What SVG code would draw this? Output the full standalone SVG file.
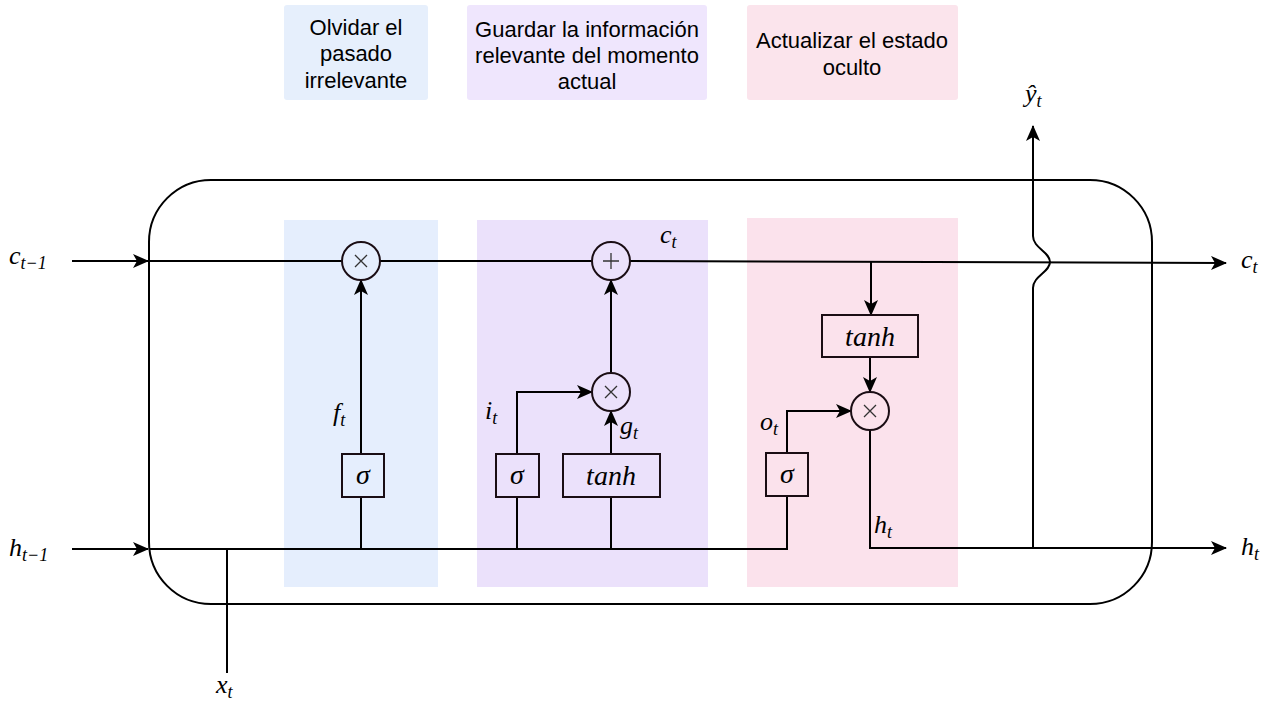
<svg xmlns="http://www.w3.org/2000/svg" width="1271" height="704" viewBox="0 0 1271 704">
<style>
.hdr{font-family:"Liberation Sans",Arial,sans-serif;font-size:22px;fill:#000;text-anchor:middle}
.m{font-family:"Liberation Serif","Times New Roman",serif;font-style:italic;font-size:26px;fill:#000}
.bx{font-size:28px}
.sub{font-size:18px}
.ln{fill:none;stroke:#000;stroke-width:2}
.box{fill:none;stroke:#1a0d14;stroke-width:2}
.op{fill:none;stroke:#1a0d14;stroke-width:2}
.sym{stroke:#333;stroke-width:1.3}
</style>
<defs>
<marker id="ar" viewBox="0 0 16 14" refX="15" refY="7" markerWidth="16" markerHeight="14" markerUnits="userSpaceOnUse" orient="auto">
<path d="M0,0 L16,7 L0,14 L4,7 Z" fill="#000"/>
</marker>
</defs>
<g id="headers">
<g id="h-forget"><rect x="284" y="5" width="144" height="95" rx="3" fill="#e6effc"/>
<text class="hdr" x="356" y="35">Olvidar el</text><text class="hdr" x="356" y="61">pasado</text><text class="hdr" x="356" y="88">irrelevante</text></g>
<g id="h-input"><rect x="467" y="5" width="240" height="95" rx="3" fill="#efe6fd"/>
<text class="hdr" x="587" y="37">Guardar la información</text><text class="hdr" x="587" y="63">relevante del momento</text><text class="hdr" x="587" y="89">actual</text></g>
<g id="h-output"><rect x="747" y="5" width="211" height="95" rx="3" fill="#fbe4ec"/>
<text class="hdr" x="852" y="48">Actualizar el estado</text><text class="hdr" x="852" y="75">oculto</text></g>
</g>
<g id="cell"><rect x="149" y="180" width="1003" height="424" rx="62" fill="none" stroke="#000" stroke-width="2"/></g>
<g id="panels">
<rect id="p-forget" x="284" y="220" width="154" height="367" fill="#e5eefd"/>
<rect id="p-input" x="477" y="220" width="231" height="367" fill="#ebe1fb"/>
<rect id="p-output" x="747" y="218" width="211" height="369" fill="#fbe2ec"/>
</g>
<g id="connectors">
<path class="ln" d="M72,261 L148,261" marker-end="url(#ar)"/>
<path class="ln" d="M149,261 L342,261"/>
<path class="ln" d="M380,261 L592,261"/>
<path class="ln" d="M630,261 L1226,263" marker-end="url(#ar)"/>
<path class="ln" d="M72,549 L148,549" marker-end="url(#ar)"/>
<path class="ln" d="M149,549 L787,549 L787,496"/>
<path class="ln" d="M227,549 L227,673"/>
<path class="ln" d="M361,549 L361,497"/>
<path class="ln" d="M361,454 L361,280" marker-end="url(#ar)"/>
<path class="ln" d="M517,549 L517,497"/>
<path class="ln" d="M517,454 L517,392 L592,392" marker-end="url(#ar)"/>
<path class="ln" d="M611,549 L611,497"/>
<path class="ln" d="M611,454 L611,411" marker-end="url(#ar)"/>
<path class="ln" d="M611,373 L611,280" marker-end="url(#ar)"/>
<path class="ln" d="M871,262 L871,315" marker-end="url(#ar)"/>
<path class="ln" d="M870,357 L870,392" marker-end="url(#ar)"/>
<path class="ln" d="M787,453 L787,411 L851,411" marker-end="url(#ar)"/>
<path class="ln" d="M870,430 L870,548 L1226,548" marker-end="url(#ar)"/>
<path class="ln" d="M1033,548 L1033,288 C1033,276 1050,272 1050,262 C1050,252 1033,248 1033,236 L1033,126" marker-end="url(#ar)"/>
</g>
<g id="forget-mul"><circle class="op" cx="361" cy="261" r="19"/><path class="sym" d="M355,255 L367,267 M367,255 L355,267"/></g>
<g id="add"><circle class="op" cx="611" cy="261" r="19"/><path class="sym" d="M611,253 L611,269 M603,261 L619,261"/></g>
<g id="input-mul"><circle class="op" cx="611" cy="392" r="19"/><path class="sym" d="M605,386 L617,398 M617,386 L605,398"/></g>
<g id="out-mul"><circle class="op" cx="870" cy="411" r="19"/><path class="sym" d="M864,405 L876,417 M876,405 L864,417"/></g>
<g id="f-sigma"><rect class="box" x="342" y="454" width="42" height="43"/><text class="m bx" x="363" y="484" text-anchor="middle">σ</text></g>
<g id="i-sigma"><rect class="box" x="496" y="454" width="43" height="43"/><text class="m bx" x="517" y="484" text-anchor="middle">σ</text></g>
<g id="g-tanh"><rect class="box" x="563" y="454" width="97" height="43"/><text class="m bx" x="611" y="485" text-anchor="middle">tanh</text></g>
<g id="o-sigma"><rect class="box" x="766" y="453" width="42" height="43"/><text class="m bx" x="787" y="483" text-anchor="middle">σ</text></g>
<g id="c-tanh"><rect class="box" x="822" y="315" width="96" height="42"/><text class="m bx" x="870" y="346" text-anchor="middle">tanh</text></g>
<g id="labels">
<text class="m" x="9" y="264">c<tspan class="sub" dy="5">t−1</tspan></text>
<text class="m" x="9" y="556">h<tspan class="sub" dy="5">t−1</tspan></text>
<text class="m" x="216" y="693">x<tspan class="sub" dy="5">t</tspan></text>
<text class="m" x="1241" y="268">c<tspan class="sub" dy="5">t</tspan></text>
<text class="m" x="1241" y="555">h<tspan class="sub" dy="5">t</tspan></text>
<text class="m" x="1025" y="102">ŷ<tspan class="sub" dy="5">t</tspan></text>
<text class="m" x="333" y="421">f<tspan class="sub" dy="5">t</tspan></text>
<text class="m" x="485" y="419">i<tspan class="sub" dy="5">t</tspan></text>
<text class="m" x="620" y="434">g<tspan class="sub" dy="5">t</tspan></text>
<text class="m" x="660" y="243">c<tspan class="sub" dy="5">t</tspan></text>
<text class="m" x="760" y="430">o<tspan class="sub" dy="5">t</tspan></text>
<text class="m" x="874" y="533">h<tspan class="sub" dy="5">t</tspan></text>
</g>
</svg>
